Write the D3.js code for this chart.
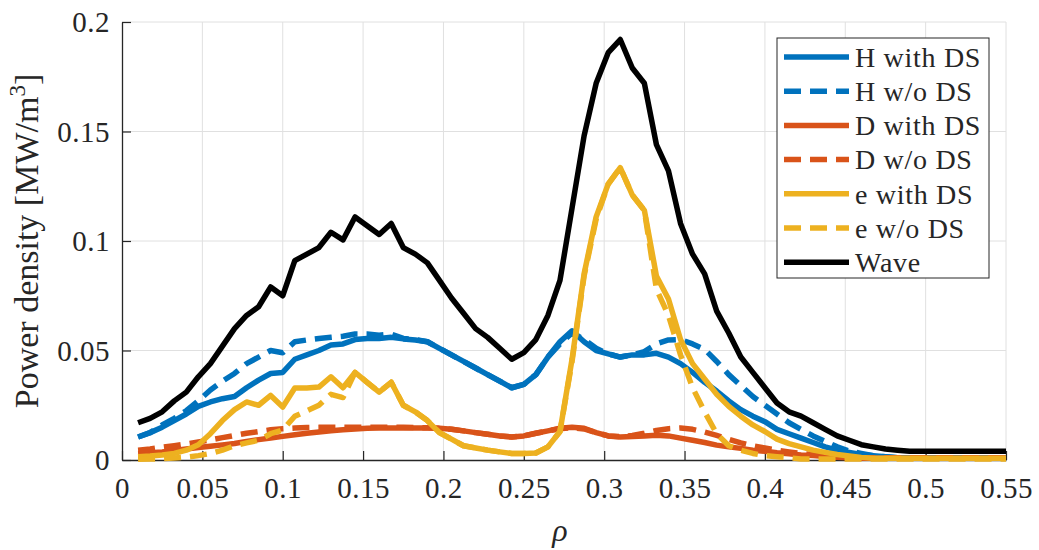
<!DOCTYPE html>
<html>
<head>
<style>
body { margin: 0; background: #fff; }
text { font-family: "Liberation Serif", "Times New Roman", serif; fill: #262626; }
</style>
</head>
<body>
</body>
<script src="https://d3js.org/d3.v7.min.js"></script>
<script>
// radial grid (rho), one value every 0.0075
var rho = [0.01, 0.0175, 0.025, 0.0325, 0.04, 0.0475, 0.055, 0.0625, 0.07, 0.0775,
  0.085, 0.0925, 0.1, 0.1075, 0.115, 0.1225, 0.13, 0.1375, 0.145, 0.1525,
  0.16, 0.1675, 0.175, 0.1825, 0.19, 0.1975, 0.205, 0.2125, 0.22, 0.2275,
  0.235, 0.2425, 0.25, 0.2575, 0.265, 0.2725, 0.28, 0.2875, 0.295, 0.3025,
  0.31, 0.3175, 0.325, 0.3325, 0.34, 0.3475, 0.355, 0.3625, 0.37, 0.3775,
  0.385, 0.3925, 0.4, 0.4075, 0.415, 0.4225, 0.43, 0.4375, 0.445, 0.4525,
  0.46, 0.4675, 0.475, 0.4825, 0.49, 0.4975, 0.505, 0.5125, 0.52, 0.5275,
  0.535, 0.5425, 0.55];

var hWith = [0.0105, 0.0125, 0.015, 0.018, 0.021, 0.0245, 0.0265, 0.028, 0.029, 0.033,
  0.0365, 0.0395, 0.040, 0.046, 0.048, 0.050, 0.0525, 0.053, 0.055, 0.0555,
  0.0555, 0.056, 0.0553, 0.0548, 0.054, 0.051, 0.048, 0.045, 0.042, 0.039,
  0.036, 0.033, 0.0345, 0.039, 0.047, 0.054, 0.059, 0.054, 0.050, 0.0485,
  0.047, 0.048, 0.048, 0.0487, 0.047, 0.044, 0.040, 0.0355, 0.0315, 0.027,
  0.023, 0.020, 0.0175, 0.014, 0.012, 0.010, 0.008, 0.006, 0.0045, 0.0035,
  0.0025, 0.002, 0.0015, 0.001, 0.001, 0.001, 0.001, 0.001, 0.001, 0.001,
  0.001, 0.001, 0.001];

var hWithout = [0.0105, 0.0125, 0.016, 0.019, 0.0225, 0.027, 0.032, 0.036, 0.0395, 0.044,
  0.047, 0.050, 0.049, 0.054, 0.0548, 0.0555, 0.056, 0.0565, 0.0575, 0.0575,
  0.057, 0.0575, 0.0555, 0.055, 0.054, 0.051, 0.048, 0.045, 0.042, 0.039,
  0.036, 0.033, 0.0345, 0.039, 0.047, 0.053, 0.058, 0.055, 0.051, 0.0485,
  0.047, 0.048, 0.0495, 0.053, 0.0548, 0.055, 0.053, 0.0505, 0.045, 0.039,
  0.034, 0.029, 0.025, 0.021, 0.017, 0.014, 0.011, 0.0085, 0.006, 0.004,
  0.003, 0.002, 0.0015, 0.001, 0.001, 0.001, 0.001, 0.001, 0.001, 0.001,
  0.001, 0.001, 0.001];

var dWith = [0.003, 0.0033, 0.0037, 0.0043, 0.005, 0.0057, 0.0063, 0.0069, 0.0075, 0.0085,
  0.0093, 0.010, 0.0108, 0.0115, 0.0122, 0.0128, 0.0134, 0.0138, 0.0142, 0.0145,
  0.0146, 0.0146, 0.0146, 0.0146, 0.0146, 0.0145, 0.014, 0.0133, 0.0125, 0.0118,
  0.011, 0.0105, 0.011, 0.0122, 0.0133, 0.0145, 0.015, 0.0145, 0.0125, 0.011,
  0.0105, 0.0107, 0.011, 0.0113, 0.011, 0.010, 0.009, 0.008, 0.0068, 0.006,
  0.0053, 0.0045, 0.004, 0.0033, 0.0028, 0.0023, 0.002, 0.0016, 0.0013, 0.001,
  0.0008, 0.0008, 0.0008, 0.0008, 0.0008, 0.0008, 0.0008, 0.0008, 0.0008, 0.0008,
  0.0008, 0.0008, 0.0008];

var dWithout = [0.0045, 0.005, 0.0058, 0.0065, 0.0073, 0.0082, 0.0092, 0.0102, 0.0112, 0.0122,
  0.013, 0.0138, 0.0143, 0.0146, 0.0148, 0.0149, 0.015, 0.015, 0.015, 0.015,
  0.015, 0.015, 0.0149, 0.0148, 0.0147, 0.0145, 0.014, 0.0133, 0.0125, 0.0118,
  0.011, 0.0105, 0.011, 0.0122, 0.0133, 0.0143, 0.0147, 0.0142, 0.0125, 0.011,
  0.0107, 0.0112, 0.0122, 0.0135, 0.0143, 0.0146, 0.014, 0.0128, 0.0112, 0.0095,
  0.0078, 0.0065, 0.0055, 0.0045, 0.0037, 0.003, 0.0025, 0.002, 0.0015, 0.0012,
  0.001, 0.001, 0.001, 0.001, 0.001, 0.001, 0.001, 0.001, 0.001, 0.001,
  0.001, 0.001, 0.001];

var eWith = [0.0015, 0.0018, 0.0023, 0.003, 0.0045, 0.007, 0.012, 0.018, 0.023, 0.0265,
  0.025, 0.0295, 0.0242, 0.0329, 0.0329, 0.0333, 0.038, 0.033, 0.040, 0.0355,
  0.031, 0.0355, 0.025, 0.022, 0.018, 0.0125, 0.0095, 0.0065, 0.0055, 0.0045,
  0.0037, 0.003, 0.003, 0.0032, 0.006, 0.013, 0.046, 0.085, 0.111, 0.126,
  0.1335, 0.121, 0.114, 0.084, 0.0735, 0.055, 0.044, 0.037, 0.030, 0.0245,
  0.020, 0.016, 0.013, 0.0095, 0.0075, 0.006, 0.0045, 0.0035, 0.0025, 0.0018,
  0.0012, 0.0008, 0.0008, 0.0008, 0.0008, 0.0008, 0.0008, 0.0008, 0.0008, 0.0008,
  0.0008, 0.0008, 0.0008];

var eWithout = [0.0003, 0.0004, 0.0006, 0.0009, 0.0013, 0.002, 0.003, 0.0045, 0.0065, 0.0078,
  0.009, 0.012, 0.0137, 0.020, 0.0225, 0.025, 0.030, 0.0285, 0.040, 0.0355,
  0.031, 0.0355, 0.025, 0.022, 0.018, 0.0125, 0.0095, 0.0065, 0.0055, 0.0045,
  0.0037, 0.003, 0.003, 0.0032, 0.006, 0.013, 0.045, 0.084, 0.110, 0.126,
  0.1335, 0.121, 0.114, 0.078, 0.066, 0.048, 0.033, 0.022, 0.012, 0.0065,
  0.0045, 0.003, 0.002, 0.0015, 0.001, 0.0005, 0.0005, 0.0005, 0.0005, 0.0005,
  0.0005, 0.0005, 0.0005, 0.0005, 0.0005, 0.0005, 0.0005, 0.0005, 0.0005, 0.0005,
  0.0005, 0.0005, 0.0005];

var wave = [0.017, 0.019, 0.022, 0.027, 0.031, 0.038, 0.044, 0.052, 0.060, 0.066,
  0.070, 0.079, 0.075, 0.091, 0.094, 0.097, 0.104, 0.1005, 0.111, 0.107,
  0.103, 0.108, 0.097, 0.094, 0.090, 0.082, 0.074, 0.067, 0.060, 0.056,
  0.051, 0.046, 0.049, 0.055, 0.066, 0.082, 0.115, 0.148, 0.172, 0.186,
  0.192, 0.179, 0.172, 0.144, 0.132, 0.108, 0.094, 0.085, 0.068, 0.058,
  0.047, 0.040, 0.033, 0.026, 0.022, 0.020, 0.017, 0.014, 0.011, 0.009,
  0.007, 0.006, 0.005, 0.0045, 0.004, 0.004, 0.004, 0.004, 0.004, 0.004,
  0.004, 0.004, 0.004];

var xTicks = [0, 0.05, 0.1, 0.15, 0.2, 0.25, 0.3, 0.35, 0.4, 0.45, 0.5, 0.55];
var yTicks = [0, 0.05, 0.1, 0.15, 0.2];

var names = ["H with DS", "H w/o DS", "D with DS", "D w/o DS", "e with DS", "e w/o DS", "Wave"];
var series = [hWith, hWithout, dWith, dWithout, eWith, eWithout, wave];
var colors = ["#0072BD", "#0072BD", "#D95319", "#D95319", "#EDB120", "#EDB120", "#000000"];
var dashed = [false, true, false, true, false, true, false];

var width = 1039, height = 550;
var pLeft = 122, pRight = 1006, pTop = 22, pBottom = 460;

var svg = d3.select("body").append("svg")
    .attr("width", width)
    .attr("height", height);

var x = d3.scaleLinear().domain([0, 0.55]).range([pLeft, pRight]);
var y = d3.scaleLinear().domain([0, 0.2]).range([pBottom, pTop]);

// grid
svg.append("g").selectAll("line").data(xTicks.slice(1)).enter().append("line")
    .attr("x1", function (d) { return x(d); })
    .attr("x2", function (d) { return x(d); })
    .attr("y1", pTop).attr("y2", pBottom)
    .attr("stroke", "#e0e0e0").attr("stroke-width", 1);
svg.append("g").selectAll("line").data(yTicks.slice(1)).enter().append("line")
    .attr("x1", pLeft).attr("x2", pRight)
    .attr("y1", function (d) { return y(d); })
    .attr("y2", function (d) { return y(d); })
    .attr("stroke", "#e0e0e0").attr("stroke-width", 1);

// axes, ticks pointing inward like matlab
var fmt = function (d) { return String(+d.toFixed(2)); };
var xAxis = svg.append("g")
    .attr("transform", "translate(0," + pBottom + ")")
    .call(d3.axisBottom(x).tickValues(xTicks).tickSizeInner(-9).tickSizeOuter(0).tickFormat(fmt));
var yAxis = svg.append("g")
    .attr("transform", "translate(" + pLeft + ",0)")
    .call(d3.axisLeft(y).tickValues(yTicks).tickSizeInner(-9).tickSizeOuter(0).tickFormat(fmt));

xAxis.select(".domain").attr("stroke", "#262626").attr("stroke-width", 1.3);
yAxis.select(".domain").attr("stroke", "#262626").attr("stroke-width", 1.3);
xAxis.selectAll(".tick line").attr("stroke", "#262626").attr("stroke-width", 1.2);
yAxis.selectAll(".tick line").attr("stroke", "#262626").attr("stroke-width", 1.2);
xAxis.selectAll(".tick text")
    .attr("y", 17).attr("dy", "0.71em")
    .style("font-family", "'Liberation Serif', serif").style("font-size", "29px")
    .style("letter-spacing", "0.5px").attr("fill", "#262626");
yAxis.selectAll(".tick text")
    .attr("x", -12).attr("dy", "0.34em")
    .style("font-family", "'Liberation Serif', serif").style("font-size", "29px")
    .style("letter-spacing", "0.5px").attr("fill", "#262626");

// lines
var line = d3.line()
    .x(function (d, i) { return x(rho[i]); })
    .y(function (d) { return y(d); });

for (var s = 0; s < series.length; s++) {
    svg.append("path")
        .datum(series[s])
        .attr("d", line)
        .attr("fill", "none")
        .attr("stroke", colors[s])
        .attr("stroke-width", 5.5)
        .attr("stroke-linejoin", "round")
        .attr("stroke-dasharray", dashed[s] ? "17,9" : null);
}

// axis labels
svg.append("text")
    .attr("x", 560).attr("y", 541)
    .attr("text-anchor", "middle")
    .style("font-size", "32px").style("font-style", "italic")
    .text("\u03C1");

var yl = svg.append("text")
    .attr("transform", "translate(38," + ((pTop + pBottom) / 2) + ") rotate(-90)")
    .attr("text-anchor", "middle")
    .style("font-size", "34px");
yl.append("tspan").text("Power density [MW/m");
yl.append("tspan").attr("dy", -13).style("font-size", "23px").text("3");
yl.append("tspan").attr("dy", 13).text("]");

// legend
var lg = svg.append("g");
lg.append("rect")
    .attr("x", 777).attr("y", 38)
    .attr("width", 212).attr("height", 240)
    .attr("fill", "#fff").attr("stroke", "#262626").attr("stroke-width", 1);

for (var k = 0; k < names.length; k++) {
    var ly = 57 + k * 34.2;
    lg.append("line")
        .attr("x1", 784).attr("x2", 849)
        .attr("y1", ly).attr("y2", ly)
        .attr("stroke", colors[k])
        .attr("stroke-width", 5.5)
        .attr("stroke-dasharray", dashed[k] ? "17,9" : null);
    lg.append("text")
        .attr("x", 855).attr("y", ly)
        .attr("dy", "0.35em")
        .style("font-size", "28px")
        .style("letter-spacing", "0.7px")
        .text(names[k]);
}
</script>
</html>
